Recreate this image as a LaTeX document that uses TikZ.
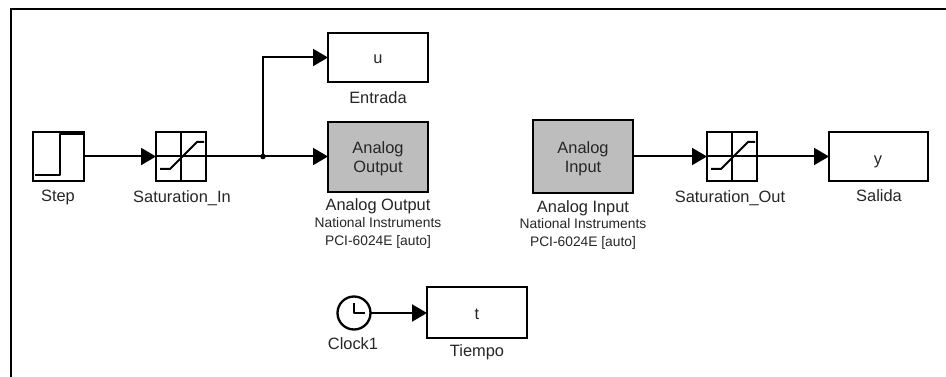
\documentclass[tikz,border=0pt]{standalone}
\usepackage{fontspec}
\setmainfont{Liberation Sans}
\usetikzlibrary{arrows.meta,calc}
\tikzset{
  x=1pt,y=-1pt,
  every node/.style={inner sep=0pt,outer sep=0pt},
  blockbox/.style={draw=black,line width=2.3pt,fill=white,minimum width=#1,anchor=center},
  sizedbox/.style n args={2}{blockbox=#1,minimum height=#2},
  grayblock/.style={fill=black!26},
  lbl/.style={font=\fontsize{16.4}{18}\selectfont,text=black!85,anchor=center,yshift=-2.5pt},
  smalllbl/.style={font=\fontsize{13.8}{16}\selectfont,text=black!85,anchor=center,yshift=-2pt},
  wire/.style={draw=black,line width=2pt},
  arrowwire/.style={wire,-{Triangle[length=15pt,width=17pt]}},
  icon/.style={draw=black,line width=2pt,line join=round},
}
\newcommand{\saticon}[1]{%
  \draw[line width=2pt] (#1.north) -- (#1.south);
  \draw[line width=2pt] (#1.west) -- (#1.east);
  \draw[icon] ($(#1)+(-21,12.5)$) -- ++(10,0) -- ++(27,-27) -- ++(7,0);
}
\begin{document}
\begin{tikzpicture}
\useasboundingbox (0,0) rectangle (946,377);
\fill[white] (0,0) rectangle (946,377);
\coordinate (fa) at (10.5,377);
\coordinate (fb) at (10.5,9.5);
\coordinate (fc) at (946,9.5);
\draw[line width=2pt] (fa) -- (fb) -- (fc);

\node[sizedbox={51pt}{49pt}] (step) at (58.5,156.5) {};
\node[sizedbox={50pt}{49pt}] (satin) at (181,156.5) {};
\node[sizedbox={100pt}{49pt}] (ublock) at (378,57.5) {};
\node[lbl] (utext) at (378,57) {u};
\node[sizedbox={100pt}{70pt},grayblock] (ao) at (378,157) {};
\node[lbl] (aotext1) at (378,147) {Analog};
\node[lbl] (aotext2) at (378,166) {Output};
\node[sizedbox={100pt}{73pt},grayblock] (ai) at (583,156.5) {};
\node[lbl] (aitext1) at (583,147) {Analog};
\node[lbl] (aitext2) at (583,166) {Input};
\node[sizedbox={50pt}{49pt}] (satout) at (732,156.5) {};
\node[sizedbox={99pt}{49pt}] (yblock) at (878.5,156.5) {};
\node[lbl] (ytext) at (878,159) {y};
\node[sizedbox={100pt}{51pt}] (tblock) at (477,312.5) {};
\node[lbl] (ttext) at (477,312) {t};
\node[circle,draw=black,line width=2.3pt,minimum size=33pt,fill=white] (clock) at (354,313) {};

% icons
\draw[icon] ($(step.south west)+(2,-6)$) coordinate (s1) -- ++(25,0) coordinate (s2) -- ++(0,-41) coordinate (s3) -- ++(24,0) coordinate (s4);
\saticon{satin}
\saticon{satout}
\draw[icon] ($(clock)+(0,-10)$) -- (clock.center) -- ++(11,0);

% connectors
\coordinate (junction) at (263,156.5);
\draw[arrowwire] (step) -- (satin);
\draw[wire] (satin) -- (junction);
\draw[arrowwire] (junction) -- (junction -| ao.west);
\draw[arrowwire] (junction) |- (ublock.west);
\fill (junction) circle (2.8pt);
\draw[arrowwire] (ai.east |- satout.west) -- (satout.west);
\draw[arrowwire] (satout) -- (yblock);
\draw[arrowwire] (clock) -- (clock -| tblock.west);

% labels
\node[lbl] (lstep) at (58,195) {Step};
\node[lbl] (lsatin) at (182,196) {Saturation\_In};
\node[lbl] (lentrada) at (378,95.5) {Entrada};
\node[lbl] (lao) at (378,204) {Analog Output};
\node[smalllbl] (lao2) at (378,221) {National Instruments};
\node[smalllbl] (lao3) at (378,240) {PCI-6024E [auto]};
\node[lbl] (lai) at (583,206) {Analog Input};
\node[smalllbl] (lai2) at (583,222) {National Instruments};
\node[smalllbl] (lai3) at (583,241) {PCI-6024E [auto]};
\node[lbl] (lsatout) at (730,196) {Saturation\_Out};
\node[lbl] (lsalida) at (879,193.5) {Salida};
\node[lbl] (lclock) at (353,341) {Clock1};
\node[lbl] (ltiempo) at (477,350) {Tiempo};
\end{tikzpicture}
\end{document}
